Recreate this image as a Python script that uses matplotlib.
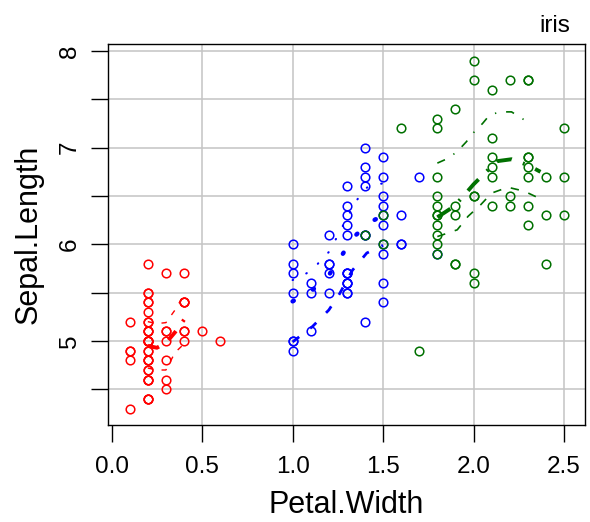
import numpy as np
import matplotlib
matplotlib.use("Agg")
import matplotlib.pyplot as plt

plt.rcParams['font.family'] = ['Liberation Sans', 'DejaVu Sans']

# ----- iris: Petal.Width vs Sepal.Length by species -----
setosa_pw = [0.2, 0.2, 0.2, 0.2, 0.2, 0.4, 0.3, 0.2, 0.2, 0.1, 0.2, 0.2, 0.1, 0.1, 0.2, 0.4, 0.4,
             0.3, 0.3, 0.3, 0.2, 0.4, 0.2, 0.5, 0.2, 0.2, 0.4, 0.2, 0.2, 0.2, 0.2, 0.4, 0.1, 0.2,
             0.2, 0.2, 0.2, 0.1, 0.2, 0.2, 0.3, 0.3, 0.2, 0.6, 0.4, 0.3, 0.2, 0.2, 0.2, 0.2]
setosa_sl = [5.1, 4.9, 4.7, 4.6, 5.0, 5.4, 4.6, 5.0, 4.4, 4.9, 5.4, 4.8, 4.8, 4.3, 5.8, 5.7, 5.4,
             5.1, 5.7, 5.1, 5.4, 5.1, 4.6, 5.1, 4.8, 5.0, 5.0, 5.2, 5.2, 4.7, 4.8, 5.4, 5.2, 5.5,
             4.9, 5.0, 5.5, 4.9, 4.4, 5.1, 5.0, 4.5, 4.4, 5.0, 5.1, 4.8, 5.1, 4.6, 5.3, 5.0]

versi_pw = [1.4, 1.5, 1.5, 1.3, 1.5, 1.3, 1.6, 1.0, 1.3, 1.4, 1.0, 1.5, 1.0, 1.4, 1.3, 1.4, 1.5,
            1.0, 1.5, 1.1, 1.8, 1.3, 1.5, 1.2, 1.3, 1.4, 1.4, 1.7, 1.5, 1.0, 1.1, 1.0, 1.2, 1.6,
            1.5, 1.6, 1.5, 1.3, 1.3, 1.3, 1.2, 1.4, 1.2, 1.0, 1.3, 1.2, 1.3, 1.3, 1.1, 1.3]
versi_sl = [7.0, 6.4, 6.9, 5.5, 6.5, 5.7, 6.3, 4.9, 6.6, 5.2, 5.0, 5.9, 6.0, 6.1, 5.6, 6.7, 5.6,
            5.8, 6.2, 5.6, 5.9, 6.1, 6.3, 6.1, 6.4, 6.6, 6.8, 6.7, 6.0, 5.7, 5.5, 5.5, 5.8, 6.0,
            5.4, 6.0, 6.7, 6.3, 5.6, 5.5, 5.5, 6.1, 5.8, 5.0, 5.6, 5.7, 5.7, 6.2, 5.1, 5.7]

virg_pw = [2.5, 1.9, 2.1, 1.8, 2.2, 2.1, 1.7, 1.8, 1.8, 2.5, 2.0, 1.9, 2.1, 2.0, 2.4, 2.3, 1.8,
           2.2, 2.3, 1.5, 2.3, 2.0, 2.0, 1.8, 2.1, 1.8, 1.8, 1.8, 2.1, 1.6, 1.9, 2.0, 2.2, 1.5,
           1.4, 2.3, 2.4, 1.8, 1.8, 2.1, 2.4, 2.3, 1.9, 2.3, 2.5, 2.3, 1.9, 2.0, 2.3, 1.8]
virg_sl = [6.3, 5.8, 7.1, 6.3, 6.5, 7.6, 4.9, 7.3, 6.7, 7.2, 6.5, 6.4, 6.8, 5.7, 5.8, 6.4, 6.5,
           7.7, 7.7, 6.0, 6.9, 5.6, 7.7, 6.3, 6.7, 7.2, 6.2, 6.1, 6.4, 7.2, 7.4, 7.9, 6.4, 6.3,
           6.1, 7.7, 6.3, 6.4, 6.0, 6.9, 6.7, 6.9, 5.8, 6.8, 6.7, 6.7, 6.3, 6.5, 6.2, 5.9]

# smoother (centre) and spread lines
red_x = [0.2, 0.25, 0.3, 0.35, 0.4]
red_mid = [4.95, 4.93, 4.98, 5.09, 5.22]
red_up = [5.2, 5.18, 5.19, 5.32, 5.48]
red_lo = [4.72, 4.70, 4.70, 4.88, 4.97]

blue_mid_x = [1.0, 1.1, 1.2, 1.27, 1.34, 1.43, 1.5]
blue_mid = [5.41, 5.51, 5.68, 5.88, 6.08, 6.23, 6.30]
blue_up_x = [1.0, 1.06, 1.11, 1.16, 1.2, 1.23, 1.26, 1.35, 1.39, 1.43, 1.5]
blue_up = [5.63, 5.68, 5.74, 5.84, 5.92, 6.02, 6.13, 6.44, 6.56, 6.61, 6.63]
blue_lo_x = [1.0, 1.11, 1.2, 1.26, 1.33, 1.41, 1.5]
blue_lo = [4.99, 5.15, 5.32, 5.49, 5.73, 5.91, 5.99]

green_mid_x = [1.8, 1.89, 1.94, 2.0, 2.07, 2.13, 2.21, 2.3, 2.37]
green_mid = [6.28, 6.39, 6.49, 6.62, 6.75, 6.86, 6.88, 6.82, 6.75]
green_up_x = [1.8, 1.86, 1.91, 1.96, 2.0, 2.05, 2.09, 2.15, 2.21, 2.27, 2.3]
green_up = [6.84, 6.89, 6.96, 7.06, 7.155, 7.25, 7.34, 7.37, 7.37, 7.30, 7.26]
green_lo_x = [1.8, 1.91, 1.97, 2.04, 2.1, 2.19, 2.28, 2.37]
green_lo = [6.08, 6.15, 6.29, 6.41, 6.53, 6.59, 6.55, 6.47]

RED, BLUE, GREEN = "#FF0000", "#0000FF", "#007000"

fig = plt.figure(figsize=(5.9, 5.22), dpi=100)
ax = fig.add_axes([0.1825, 0.1858, 0.8090, 0.7299])

# grid
for gx in [0.5, 1.0, 1.5, 2.0, 2.5]:
    ax.axvline(gx, color="#C4C4C4", lw=1.1, zorder=0)
for gy in [4.5, 5, 5.5, 6, 6.5, 7, 7.5, 8]:
    ax.axhline(gy, color="#C4C4C4", lw=1.1, zorder=0)

# points
for xs, ys, c in [(setosa_pw, setosa_sl, RED), (versi_pw, versi_sl, BLUE), (virg_pw, virg_sl, GREEN)]:
    ax.plot(xs, ys, "o", mfc="none", mec=c, ms=6.2, mew=1.1, zorder=3)

# smooth lines
ax.plot(red_x, red_mid, color=RED, lw=2.8, ls=(0, (3, 3)), zorder=4)
ax.plot(red_x, red_up, color=RED, lw=1.0, ls=(0, (4, 6)), zorder=4)
ax.plot(red_x, red_lo, color=RED, lw=1.0, ls=(0, (4, 6)), zorder=4)

ax.plot(blue_mid_x, blue_mid, color=BLUE, lw=3.2, ls=(0, (0.3, 5)), dash_capstyle="round", zorder=4)
ax.plot(blue_up_x, blue_up, color=BLUE, lw=1.5, ls=(0, (0.3, 7)), dash_capstyle="round", zorder=4)
ax.plot(blue_lo_x, blue_lo, color=BLUE, lw=2.0, ls=(0, (3, 5)), zorder=4)

ax.plot(green_mid_x, green_mid, color=GREEN, lw=2.8, ls=(0, (4, 3, 0.5, 3)), zorder=4)
ax.plot(green_up_x, green_up, color=GREEN, lw=1.2, ls=(0, (5, 6, 0.8, 6)), zorder=4)
ax.plot(green_lo_x, green_lo, color=GREEN, lw=1.2, ls=(0, (5, 6)), zorder=4)

ax.set_xlim(-0.022, 2.616)
ax.set_ylim(4.131, 8.072)

ax.set_xticks([0.0, 0.5, 1.0, 1.5, 2.0, 2.5])
ax.set_xticklabels(["0.0", "0.5", "1.0", "1.5", "2.0", "2.5"])
ax.set_yticks([4.5, 5, 5.5, 6, 6.5, 7, 7.5, 8])
ax.set_yticklabels(["", "5", "", "6", "", "7", "", "8"], rotation=90, va="center")
ax.tick_params(axis="x", length=12, width=1.0, pad=10, labelsize=17.5)
ax.tick_params(axis="y", length=12, width=1.0, pad=7.5, labelsize=17.5)

for s in ax.spines.values():
    s.set_linewidth(1.0)

ax.set_xlabel("Petal.Width", fontsize=22, labelpad=9)
ax.set_ylabel("Sepal.Length", fontsize=22, labelpad=11)
fig.text(0.9407, 0.9387, "iris", fontsize=17.5, ha="center", va="baseline")

fig.savefig("out.png", dpi=100)
